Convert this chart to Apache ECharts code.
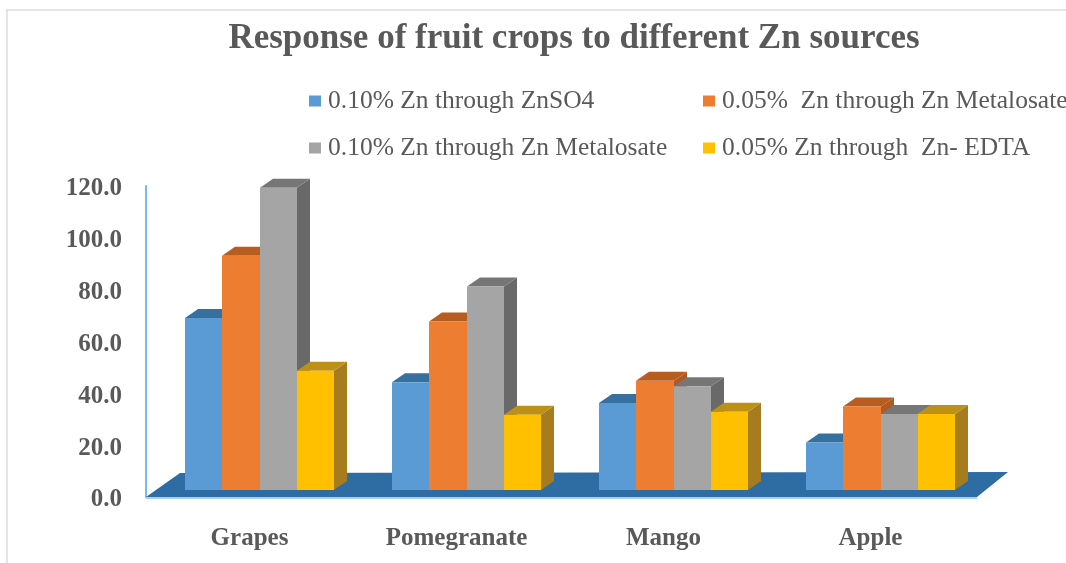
<!DOCTYPE html>
<html>
<head>
<meta charset="UTF-8" />
<title>Response of fruit crops</title>
<script src="https://cdn.jsdelivr.net/npm/echarts@6/dist/echarts.min.js"></script>
<style>
  html, body { margin: 0; padding: 0; background: #fff; }
  #chart { width: 1066px; height: 563px; }
</style>
</head>
<body>
<div id="chart"></div>
<script>
var categories = ['Grapes', 'Pomegranate', 'Mango', 'Apple'];
var seriesNames = [
  '0.10% Zn through ZnSO4',
  '0.05%  Zn through Zn Metalosate',
  '0.10% Zn through Zn Metalosate',
  '0.05% Zn through  Zn- EDTA'
];
var znso4Values = [66.4, 41.6, 33.6, 18.3];
var metalosate05Values = [90.4, 65, 42.2, 32.2];
var metalosate10Values = [116.6, 78.5, 40, 29.3];
var edtaValues = [46, 29, 30.2, 29.3];
var allValues = [znso4Values, metalosate05Values, metalosate10Values, edtaValues];

var frontColors = ['#5b9bd5', '#ed7d31', '#a5a5a5', '#ffc000'];
var topColors = ['#35709f', '#b85d20', '#767676', '#bd9016'];
var sideColors = ['#41719c', '#ae5a21', '#696969', '#a67c1f'];

var myChart = echarts.init(document.getElementById('chart'));

// bars stand a little behind the axis plane, depth is drawn as an oblique offset
var inset = [10, -7];
var depth = [13, -9];
var barShare = 0.181;

function barItem(s) {
  return function (params, api) {
    var c = api.coord([api.value(0), api.value(1)]);
    var base = api.coord([api.value(0), 0]);
    var band = api.size([1, 0])[0];
    var w = band * barShare;
    var x0 = Math.round(c[0] + inset[0] + (s - 2) * w);
    var x1 = Math.round(c[0] + inset[0] + (s - 1) * w);
    var yt = c[1] + inset[1];
    var yb = base[1] + inset[1];
    return {
      type: 'group',
      children: [
        { type: 'polygon', shape: { points: [[x1, yt], [x1 + depth[0], yt + depth[1]], [x1 + depth[0], yb + depth[1]], [x1, yb]] }, style: { fill: sideColors[s] } },
        { type: 'polygon', shape: { points: [[x0, yt], [x0 + depth[0], yt + depth[1]], [x1 + depth[0], yt + depth[1]], [x1, yt]] }, style: { fill: topColors[s] } },
        { type: 'rect', shape: { x: x0, y: yt, width: x1 - x0, height: yb - yt }, style: { fill: frontColors[s] } }
      ]
    };
  };
}

function floorItem(params, api) {
  var g = params.coordSys;
  var yb = g.y + g.height;
  return {
    type: 'group',
    children: [
      { type: 'polygon', shape: { points: [[g.x, yb], [g.x + 34, yb - 24], [g.x + g.width + 34, yb - 25], [g.x + g.width + 3, yb]] }, style: { fill: '#2e6da4' } },
      { type: 'line', shape: { x1: g.x, y1: yb + 1, x2: g.x + g.width + 3, y2: yb + 1 }, style: { stroke: '#8fc0e8', lineWidth: 1.5 } }
    ]
  };
}

var series = [{
  type: 'custom',
  name: 'floor',
  silent: true,
  renderItem: floorItem,
  data: [[0, 0]],
  encode: { x: 0, y: 1 },
  z: 1
}];
for (var s = 0; s < seriesNames.length; s++) {
  series.push({
    type: 'custom',
    name: seriesNames[s],
    itemStyle: { color: frontColors[s] },
    renderItem: barItem(s),
    data: categories.map(function (c, i) { return [i, allValues[s][i]]; }),
    encode: { x: 0, y: 1 },
    z: 2 + s
  });
}

function legendAt(i, left, top) {
  return {
    data: [seriesNames[i]],
    left: left,
    top: top,
    padding: 0,
    itemWidth: 12,
    itemHeight: 11,
    itemGap: 0,
    icon: 'rect',
    textStyle: { fontFamily: 'Liberation Serif', fontSize: 25.5, color: '#595959', padding: [0, 0, 0, 2] }
  };
}

myChart.setOption({
  animation: false,
  backgroundColor: '#fff',
  title: {
    text: 'Response of fruit crops to different Zn sources',
    left: 569,
    top: 16,
    textAlign: 'center',
    textStyle: { fontFamily: 'Liberation Serif', fontWeight: 'bold', fontSize: 35, color: '#595959' }
  },
  legend: [
    legendAt(0, 309, 88),
    legendAt(1, 703, 88),
    legendAt(2, 309, 135),
    legendAt(3, 703, 135)
  ],
  graphic: [
    { type: 'line', silent: true, shape: { x1: 6, y1: 10, x2: 1066, y2: 10 }, style: { stroke: '#dcdcdc', lineWidth: 1.5 } },
    { type: 'line', silent: true, shape: { x1: 7, y1: 10, x2: 7, y2: 563 }, style: { stroke: '#dcdcdc', lineWidth: 1.5 } }
  ],
  grid: { left: 146, width: 828, top: 186, height: 311 },
  xAxis: {
    type: 'category',
    data: categories,
    axisLine: { show: false },
    axisTick: { show: false },
    axisLabel: { margin: 29, fontFamily: 'Liberation Serif', fontWeight: 'bold', fontSize: 25, color: '#595959' }
  },
  yAxis: {
    type: 'value',
    min: 0,
    max: 120,
    interval: 20,
    splitLine: { show: false },
    axisTick: { show: false },
    axisLine: { show: true, lineStyle: { color: '#7ab8e8', width: 2 } },
    axisLabel: {
      margin: 24,
      color: '#595959',
      formatter: function (v) { return '{v|' + v.toFixed(1) + '}'; },
      rich: {
        v: { fontFamily: 'Liberation Serif', fontWeight: 'bold', fontSize: 25, color: '#595959', padding: [6, 0, 0, 0] }
      }
    }
  },
  series: series
});
</script>
</body>
</html>
